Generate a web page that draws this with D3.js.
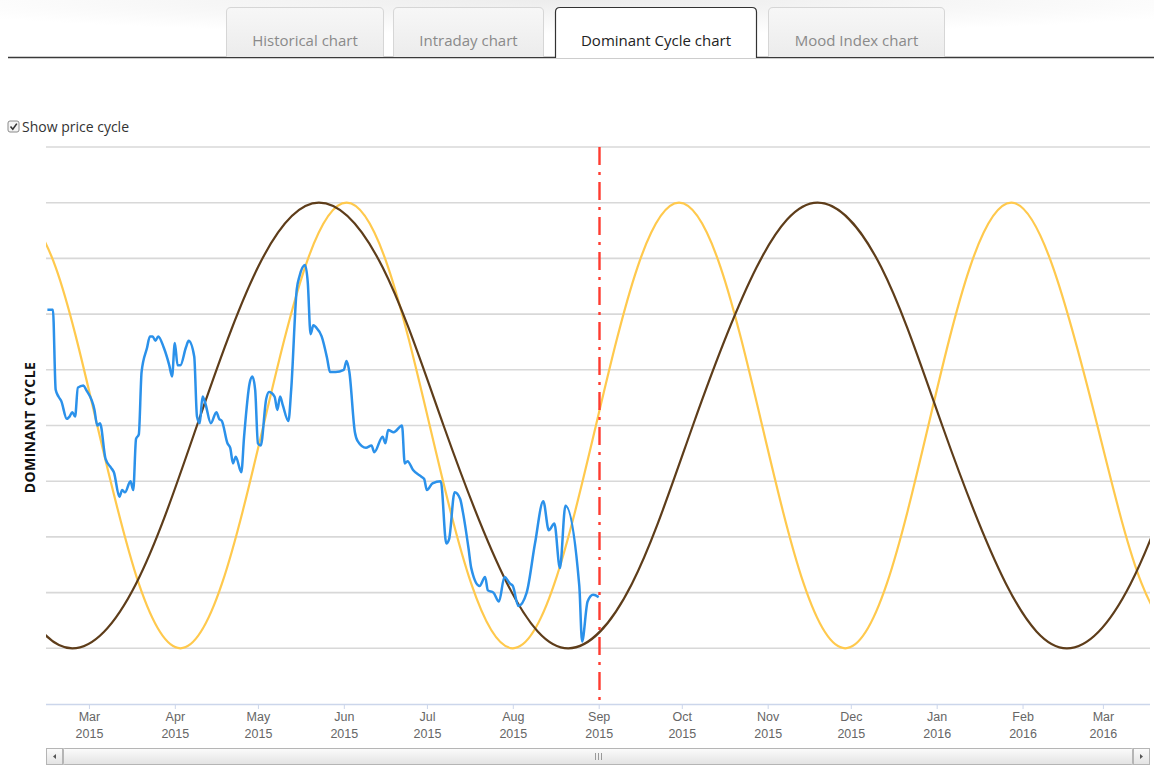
<!DOCTYPE html>
<html>
<head>
<meta charset="utf-8">
<script src="https://cdn.jsdelivr.net/npm/d3@7"></script>
<style>
	body { margin: 0; background: #fff; }
	svg { display: block; font-family: "Open Sans", "DejaVu Sans", sans-serif; }
</style>
</head>
<body>
<svg id="cycle-plot" width="1154" height="766" viewBox="0 0 1154 766"></svg>
<script>

// tabs above the chart
const tab_names = ["Historical chart", "Intraday chart", "Dominant Cycle chart", "Mood Index chart"];
const active_tab = "Dominant Cycle chart";

// horizontal grid levels (value units of the cycle)
const y_ticks = [-1, -0.75, -0.5, -0.25, 0, 0.25, 0.5, 0.75, 1, 1.25];

// month ticks on the time axis
const month_ticks = ["2015-03-01", "2015-04-01", "2015-05-01", "2015-06-01", "2015-07-01", "2015-08-01",
	"2015-09-01", "2015-10-01", "2015-11-01", "2015-12-01", "2016-01-01", "2016-02-01", "2016-03-01"];

// today marker
const today_date = "2015-09-01";

// price cycle (blue)
const price_dates = ["2015-02-14", "2015-02-16", "2015-02-17", "2015-02-18", "2015-02-19", "2015-02-21", "2015-02-22",
	"2015-02-23", "2015-02-24", "2015-02-25", "2015-02-27", "2015-02-28", "2015-03-03", "2015-03-04", "2015-03-05",
	"2015-03-07", "2015-03-09", "2015-03-10", "2015-03-12", "2015-03-13", "2015-03-14", "2015-03-16", "2015-03-17",
	"2015-03-18", "2015-03-19", "2015-03-20", "2015-03-22", "2015-03-23", "2015-03-24", "2015-03-25", "2015-03-26",
	"2015-03-28", "2015-03-30", "2015-03-31", "2015-04-01", "2015-04-02", "2015-04-03", "2015-04-05", "2015-04-06",
	"2015-04-08", "2015-04-09", "2015-04-10", "2015-04-11", "2015-04-12", "2015-04-14", "2015-04-16", "2015-04-17",
	"2015-04-18", "2015-04-20", "2015-04-21", "2015-04-22", "2015-04-23", "2015-04-25", "2015-04-26", "2015-04-28",
	"2015-04-29", "2015-04-30", "2015-05-01", "2015-05-02", "2015-05-04", "2015-05-05", "2015-05-07", "2015-05-08",
	"2015-05-09", "2015-05-10", "2015-05-12", "2015-05-13", "2015-05-15", "2015-05-16", "2015-05-18", "2015-05-19",
	"2015-05-20", "2015-05-21", "2015-05-22", "2015-05-24", "2015-05-26", "2015-05-27", "2015-05-29", "2015-06-01",
	"2015-06-02", "2015-06-03", "2015-06-05", "2015-06-06", "2015-06-09", "2015-06-11", "2015-06-12", "2015-06-15",
	"2015-06-16", "2015-06-17", "2015-06-19", "2015-06-22", "2015-06-23", "2015-06-24", "2015-06-26", "2015-06-29",
	"2015-06-30", "2015-07-01", "2015-07-03", "2015-07-06", "2015-07-08", "2015-07-09", "2015-07-11", "2015-07-13",
	"2015-07-14", "2015-07-16", "2015-07-17", "2015-07-20", "2015-07-22", "2015-07-23", "2015-07-25", "2015-07-27",
	"2015-07-29", "2015-07-31", "2015-08-01", "2015-08-03", "2015-08-06", "2015-08-09", "2015-08-12", "2015-08-14",
	"2015-08-16", "2015-08-18", "2015-08-20", "2015-08-25", "2015-08-26", "2015-08-28", "2015-08-30", "2015-09-01"];
const price_values = [0.52, 0.52, 0.16, 0.13, 0.11, 0.03, 0.04,
	0.06, 0.04, 0.17, 0.18, 0.16, 0.07, 0.00, 0.01,
	-0.15, -0.19, -0.21, -0.32, -0.29, -0.30, -0.25, -0.29,
	-0.06, -0.04, 0.24, 0.35, 0.40, 0.40, 0.38, 0.40,
	0.35, 0.27, 0.22, 0.37, 0.27, 0.27, 0.35, 0.38,
	0.31, 0.04, 0.01, 0.13, 0.10, 0.01, 0.06, 0.03,
	0.02, -0.08, -0.10, -0.17, -0.14, -0.21, -0.05, 0.19,
	0.22, 0.16, -0.08, -0.09, 0.12, 0.15, 0.13, 0.07,
	0.13, 0.09, 0.02, 0.16, 0.61, 0.67, 0.72, 0.64,
	0.41, 0.45, 0.44, 0.40, 0.30, 0.24, 0.24, 0.25,
	0.29, 0.24, -0.03, -0.07, -0.10, -0.09, -0.12, -0.05,
	-0.08, -0.02, -0.03, 0.00, -0.17, -0.16, -0.20, -0.23,
	-0.24, -0.29, -0.26, -0.25, -0.53, -0.51, -0.30, -0.33,
	-0.39, -0.55, -0.64, -0.72, -0.68, -0.74, -0.75, -0.79,
	-0.68, -0.71, -0.72, -0.81, -0.75, -0.53, -0.34, -0.47,
	-0.44, -0.64, -0.36, -0.72, -0.97, -0.79, -0.76, -0.77];

// short dominant cycle (yellow), turning points
const short_cycle_dates = ["2015-02-03", "2015-02-17", "2015-03-04", "2015-03-19", "2015-04-03", "2015-04-18",
	"2015-05-03", "2015-05-18", "2015-06-02", "2015-06-17", "2015-07-02", "2015-07-17", "2015-08-01",
	"2015-08-16", "2015-08-31", "2015-09-15", "2015-09-30", "2015-10-15", "2015-10-30", "2015-11-14",
	"2015-11-29", "2015-12-14", "2015-12-29", "2016-01-13", "2016-01-28", "2016-02-12", "2016-02-28",
	"2016-03-15", "2016-03-31"];
const short_cycle_values = [1, 0.71, 0, -0.71, -1, -0.71, 0, 0.71, 1, 0.71, 0, -0.71, -1,
	-0.71, 0, 0.71, 1, 0.71, 0, -0.71, -1, -0.71, 0, 0.71, 1, 0.71, 0, -0.71, -1];

// long dominant cycle (brown)
const long_cycle_dates = ["2015-01-09", "2015-02-01", "2015-02-23", "2015-03-18", "2015-04-09", "2015-05-01",
	"2015-05-23", "2015-06-15", "2015-07-07", "2015-07-30", "2015-08-21", "2015-09-13", "2015-10-05",
	"2015-10-28", "2015-11-19", "2015-12-12", "2016-01-03", "2016-01-26", "2016-02-17", "2016-03-11",
	"2016-04-02"];
const long_cycle_values = [0, -0.71, -1, -0.71, 0, 0.71, 1, 0.71, 0, -0.71, -1, -0.71, 0,
	0.71, 1, 0.71, 0, -0.71, -1, -0.71, 0];

const parse_date = d3.timeParse("%Y-%m-%d");
const month_fmt = d3.timeFormat("%b");
const year_fmt = d3.timeFormat("%Y");

function zip(dates, values) {
	return dates.map((d, i) => ({ date: parse_date(d), value: values[i] }));
}

class CyclePlot {

	constructor(svg_element_id) {
		this.svg = d3.select('#' + svg_element_id);

		const left = 46, right = 1150, top = 147, bottom = 704;

		this.drawTabs();

		// checkbox
		const cb = this.svg.append('g').attr('transform', 'translate(8,121)');
		cb.append('rect').attr('width', 11).attr('height', 11).attr('rx', 2)
			.attr('fill', '#f4f4f4').attr('stroke', '#8a8a8a');
		cb.append('path').attr('d', 'M2.5,5.5 L4.8,8.2 L8.8,2.6')
			.attr('fill', 'none').attr('stroke', '#333').attr('stroke-width', 1.6);
		this.svg.append('text').attr('x', 22).attr('y', 132)
			.attr('font-size', 14).attr('fill', '#333').text('Show price cycle');

		const x = d3.scaleTime()
			.domain([new Date(2015, 1, 13, 12), new Date(2016, 2, 18)])
			.range([left, right]);
		const y = d3.scaleLinear()
			.domain([-1.25, 1.25])
			.range([bottom, top]);

		// grid
		this.svg.append('g').selectAll('line')
			.data(y_ticks)
			.enter()
			.append('line')
			.attr('x1', left).attr('x2', right)
			.attr('y1', d => y(d)).attr('y2', d => y(d))
			.attr('stroke', '#d8d8d8').attr('stroke-width', 1.6);

		// y title
		this.svg.append('text')
			.attr('transform', `translate(35,${(top + bottom) / 2 + 2}) rotate(-90)`)
			.attr('text-anchor', 'middle')
			.attr('font-size', 14).attr('font-weight', 'bold').attr('fill', '#111')
			.attr('letter-spacing', 0.4)
			.text('DOMINANT CYCLE');

		// x axis
		const x_axis = this.svg.append('g')
			.attr('transform', `translate(0,${bottom})`)
			.call(d3.axisBottom(x).tickValues(month_ticks.map(parse_date)).tickSize(5).tickFormat(''));
		x_axis.select('.domain').attr('stroke', '#ccd6eb').attr('stroke-width', 1.5)
			.attr('d', `M${left},0.5H${right}`);
		x_axis.selectAll('.tick line').attr('stroke', '#ccd6eb');
		const lbl = x_axis.selectAll('.tick').append('text')
			.attr('fill', '#666').attr('font-size', 12.5).attr('text-anchor', 'middle');
		lbl.append('tspan').attr('x', 0).attr('y', 17).text(d => month_fmt(d));
		lbl.append('tspan').attr('x', 0).attr('y', 34).text(d => year_fmt(d));

		// clip to plot area
		this.svg.append('clipPath').attr('id', 'plot-clip')
			.append('rect').attr('x', left).attr('y', top - 5).attr('width', right - left).attr('height', bottom - top + 10);
		const plot = this.svg.append('g').attr('clip-path', 'url(#plot-clip)');

		const line_smooth = d3.line()
			.x(d => x(d.date)).y(d => y(d.value))
			.curve(d3.curveNatural);
		const line_price = d3.line()
			.x(d => x(d.date)).y(d => y(d.value))
			.curve(d3.curveMonotoneX);

		plot.append('path')
			.datum(zip(short_cycle_dates, short_cycle_values))
			.attr('d', line_smooth)
			.attr('fill', 'none').attr('stroke', '#ffc94d').attr('stroke-width', 2.2);

		plot.append('path')
			.datum(zip(long_cycle_dates, long_cycle_values))
			.attr('d', line_smooth)
			.attr('fill', 'none').attr('stroke', '#5e3d1a').attr('stroke-width', 2.2);

		plot.append('path')
			.datum(zip(price_dates, price_values))
			.attr('d', line_price)
			.attr('fill', 'none').attr('stroke', '#2b91ea').attr('stroke-width', 2.5)
			.attr('stroke-linejoin', 'round');

		// today marker
		const tx = Math.round(x(parse_date(today_date))) + 0.5;
		this.svg.append('line')
			.attr('x1', tx).attr('x2', tx).attr('y1', top).attr('y2', bottom)
			.attr('stroke', '#ff3b30').attr('stroke-width', 2.4)
			.attr('stroke-dasharray', '18,7,3,7');

		this.drawScrollbar(left, right, 748);
	}

	drawTabs() {
		const defs = this.svg.append('defs');
		const bg = defs.append('radialGradient').attr('id', 'tab-bg')
			.attr('cx', '50%').attr('cy', '0%').attr('r', '60%');
		bg.append('stop').attr('offset', '0%').attr('stop-color', '#ececec');
		bg.append('stop').attr('offset', '100%').attr('stop-color', '#ffffff');
		const tg = defs.append('linearGradient').attr('id', 'tab-fill')
			.attr('x1', 0).attr('y1', 0).attr('x2', 0).attr('y2', 1);
		tg.append('stop').attr('offset', '0%').attr('stop-color', '#f7f7f7');
		tg.append('stop').attr('offset', '100%').attr('stop-color', '#ececec');

		this.svg.append('rect').attr('x', 0).attr('y', 0).attr('width', 1154).attr('height', 57)
			.attr('fill', 'url(#tab-bg)');

		const tab_x = [226, 393, 555, 768];
		const tab_w = [158, 151, 202, 177];
		const g = this.svg.append('g');
		g.append('line').attr('x1', 8).attr('x2', 1154).attr('y1', 57.5).attr('y2', 57.5)
			.attr('stroke', '#3a3a3a').attr('stroke-width', 1.5);
		tab_names.forEach((name, i) => {
			const x0 = tab_x[i], w = tab_w[i], y0 = 7, y1 = 57;
			const active = name === active_tab;
			const r = 5;
			const p = `M${x0 + 0.5},${y1 + (active ? 1 : 0)} V${y0 + r} Q${x0 + 0.5},${y0 + 0.5} ${x0 + r},${y0 + 0.5} H${x0 + w - r} Q${x0 + w - 0.5},${y0 + 0.5} ${x0 + w - 0.5},${y0 + r} V${y1 + (active ? 1 : 0)}`;
			g.append('path').attr('d', p)
				.attr('fill', active ? '#fff' : 'url(#tab-fill)')
				.attr('stroke', active ? '#333' : '#d6d6d6')
				.attr('stroke-width', active ? 1.2 : 1);
			g.append('text').attr('x', x0 + w / 2).attr('y', 46)
				.attr('text-anchor', 'middle').attr('font-size', 15)
				.attr('fill', active ? '#222' : '#8a8a8a')
				.text(name);
		});
	}

	drawScrollbar(left, right, top) {
		const h = 16;
		const defs = this.svg.select('defs');
		const sg = defs.append('linearGradient').attr('id', 'scroll-fill')
			.attr('x1', 0).attr('y1', 0).attr('x2', 0).attr('y2', 1);
		sg.append('stop').attr('offset', '0%').attr('stop-color', '#fbfbfb');
		sg.append('stop').attr('offset', '100%').attr('stop-color', '#e3e3e3');
		const g = this.svg.append('g');
		g.append('rect').attr('x', left + 0.5).attr('y', top + 0.5).attr('width', right - left - 1).attr('height', h)
			.attr('fill', '#eee').attr('stroke', '#c8c8c8');
		g.append('rect').attr('x', left + 17.5).attr('y', top + 0.5).attr('width', right - left - 35).attr('height', h)
			.attr('fill', 'url(#scroll-fill)').attr('stroke', '#b5b5b5').attr('rx', 1);
		[left + 0.5, right - 16.5].forEach((bx, i) => {
			g.append('rect').attr('x', bx).attr('y', top + 0.5).attr('width', 16).attr('height', h)
				.attr('fill', 'url(#scroll-fill)').attr('stroke', '#b5b5b5');
			const cx = bx + 8, cy = top + 8.5;
			g.append('path')
				.attr('d', i === 0 ? `M${cx + 1.5},${cy - 2.5} L${cx - 1.5},${cy} L${cx + 1.5},${cy + 2.5} Z`
					: `M${cx - 1.5},${cy - 2.5} L${cx + 1.5},${cy} L${cx - 1.5},${cy + 2.5} Z`)
				.attr('fill', '#555');
		});
		const mid = (left + right) / 2;
		[-3, 0, 3].forEach(dx => {
			g.append('line').attr('x1', mid + dx + 0.5).attr('x2', mid + dx + 0.5)
				.attr('y1', top + 5).attr('y2', top + 12).attr('stroke', '#999');
		});
	}
}

function whenDocumentLoaded(action) {
	if (document.readyState === "loading") {
		document.addEventListener("DOMContentLoaded", action);
	} else {
		action();
	}
}

whenDocumentLoaded(() => {
	plot_object = new CyclePlot('cycle-plot');
});
</script>
</body>
</html>
